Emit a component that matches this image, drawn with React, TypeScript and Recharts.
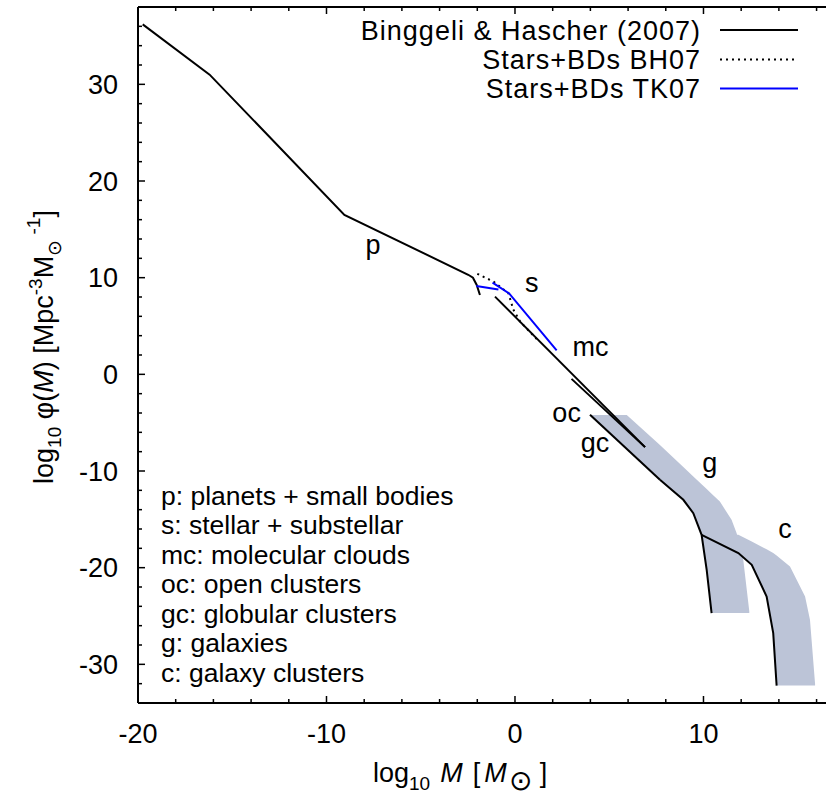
import React from "react";
import { ComposedChart, Line, Area, Scatter, XAxis, YAxis } from "recharts";

// axis ranges and ticks (log10 M in solar masses, log10 phi); multiples of 10 are the labelled ones
const X_DOMAIN: [number, number] = [-20, 16.5];
const Y_DOMAIN: [number, number] = [-34, 38];
const xTicks = [-20, -18, -16, -14, -12, -10, -8, -6, -4, -2, 0, 2, 4, 6, 8, 10, 12, 14, 16];
const yTicks = [-32, -30, -28, -26, -24, -22, -20, -18, -16, -14, -12, -10, -8, -6, -4, -2, 0, 2, 4, 6, 8, 10, 12, 14, 16, 18, 20, 22, 24, 26, 28, 30, 32, 34, 36];

// Binggeli & Hascher (2007) curves
const planets = [
  { m: -19.75, phi: 36.2 },
  { m: -16.2, phi: 31.0 },
  { m: -9.05, phi: 16.5 },
  { m: -2.48, phi: 10.3 },
  { m: -2.23, phi: 10.0 },
  { m: -2.03, phi: 9.25 },
  { m: -1.86, phi: 8.2 },
];
const molecularClouds = [
  { m: -1.06, phi: 8.04 },
  { m: 6.9, phi: -7.53 },
];
const openClusters = [
  { m: 3.0, phi: -0.47 },
  { m: 6.9, phi: -7.53 },
];
const globularClusters = [
  { m: 3.98, phi: -4.19 },
  { m: 7.69, phi: -10.91 },
];
const galaxies = [
  { m: 7.69, phi: -10.91 },
  { m: 8.93, phi: -12.98 },
  { m: 9.46, phi: -14.36 },
  { m: 9.9, phi: -16.6 },
  { m: 10.17, phi: -20.22 },
  { m: 10.43, phi: -24.7 },
];
const galaxyClusters = [
  { m: 9.9, phi: -16.6 },
  { m: 11.85, phi: -18.49 },
  { m: 12.56, phi: -19.7 },
  { m: 13.35, phi: -22.98 },
  { m: 13.7, phi: -26.77 },
  { m: 13.88, phi: -32.2 },
];

// Stars+BDs mass functions
const starsBH07 = [
  { m: -2.0, phi: 10.4 },
  { m: -1.15, phi: 9.6 },
  { m: -0.35, phi: 8.4 },
  { m: -0.09, phi: 6.7 },
  { m: 0.27, phi: 5.46 },
  { m: 1.2, phi: 3.55 },
];
const tk07BrownDwarfs = [
  { m: -2.05, phi: 9.13 },
  { m: -0.88, phi: 8.78 },
];
const tk07Stars = [
  { m: -1.19, phi: 9.48 },
  { m: -0.31, phi: 8.37 },
  { m: 2.21, phi: 2.48 },
];

// shaded uncertainty bands
const galaxyBand = [
  { m: 4.0, lo: -4.2, hi: -4.2 },
  { m: 5.93, lo: -7.72, hi: -4.2 },
  { m: 7.69, lo: -10.91, hi: -7.3 },
  { m: 8.93, lo: -12.98, hi: -9.58 },
  { m: 9.46, lo: -14.36, hi: -10.56 },
  { m: 9.9, lo: -16.6, hi: -11.37 },
  { m: 10.17, lo: -20.22, hi: -11.87 },
  { m: 10.43, lo: -24.7, hi: -12.35 },
  { m: 10.87, lo: -24.7, hi: -13.16 },
  { m: 11.49, lo: -24.7, hi: -15.05 },
  { m: 11.76, lo: -24.7, hi: -16.43 },
  { m: 12.11, lo: -24.7, hi: -19.19 },
  { m: 12.43, lo: -24.7, hi: -24.5 },
];
const clusterBand = [
  { m: 9.9, lo: -16.6, hi: -16.6 },
  { m: 11.85, lo: -18.49, hi: -16.6 },
  { m: 12.56, lo: -19.7, hi: -17.3 },
  { m: 13.35, lo: -22.98, hi: -18.1 },
  { m: 13.7, lo: -26.77, hi: -18.49 },
  { m: 13.88, lo: -32.2, hi: -18.75 },
  { m: 14.59, lo: -32.2, hi: -19.88 },
  { m: 15.39, lo: -32.2, hi: -22.98 },
  { m: 15.65, lo: -32.2, hi: -25.4 },
  { m: 15.92, lo: -32.2, hi: -32.0 },
];

const regionLabels = [
  { m: -7.53, phi: 12.46, text: "p" },
  { m: 0.89, phi: 8.5, text: "s" },
  { m: 4.01, phi: 1.91, text: "mc" },
  { m: 2.74, phi: -4.95, text: "oc" },
  { m: 4.24, phi: -8.0, text: "gc" },
  { m: 10.34, phi: -10.1, text: "g" },
  { m: 14.32, phi: -16.95, text: "c" },
];

const keyLines = [
  "p: planets + small bodies",
  "s: stellar + substellar",
  "mc: molecular clouds",
  "oc: open clusters",
  "gc: globular clusters",
  "g: galaxies",
  "c: galaxy clusters",
];

const legendNames = ["Binggeli & Hascher (2007)", "Stars+BDs BH07", "Stars+BDs TK07"];

const BAND_COLOR = "#bcc4d7";
const FONT = "'Liberation Sans', Arial, Helvetica, sans-serif";
const W = 826;
const H = 798;

const toRange = (rows: { m: number; lo: number; hi: number }[]) =>
  rows.map((r) => ({ m: r.m, range: [r.lo, r.hi] }));

const renderRegionLabel = (props: any) => (
  <text x={props.cx} y={props.cy} textAnchor="middle" fontSize={27} fontFamily={FONT} fill="#000">
    {props.payload.text}
  </text>
);

const isMajor = (v: number) => v % 10 === 0;
const tickLen = (v: number) => (isMajor(v) ? 7 : 4);

// gnuplot-style inward ticks; (x, y) is the point on the frame
const bottomTick = (p: any) => {
  const v = p.payload.value;
  return (
    <g>
      <line x1={p.x} y1={p.y} x2={p.x} y2={p.y - tickLen(v)} stroke="#000" strokeWidth={1.5} />
      {isMajor(v) && (
        <text x={p.x} y={p.y + 39.7} textAnchor="middle" fontSize={27} fontFamily={FONT} fill="#000">{v}</text>
      )}
    </g>
  );
};
const topTick = (p: any) => (
  <line x1={p.x} y1={p.y} x2={p.x} y2={p.y + tickLen(p.payload.value)} stroke="#000" strokeWidth={1.5} />
);
const leftTick = (p: any) => {
  const v = p.payload.value;
  return (
    <g>
      <line x1={p.x} y1={p.y} x2={p.x + tickLen(v)} y2={p.y} stroke="#000" strokeWidth={1.5} />
      {isMajor(v) && (
        <text x={p.x - 20} y={p.y + 9.6} textAnchor="end" fontSize={27} fontFamily={FONT} fill="#000">{v}</text>
      )}
    </g>
  );
};

const ax = { xAxisId: "xMain", yAxisId: "yMain" };
const frameStroke = { stroke: "#000", strokeWidth: 2 };

export default function App() {
  return (
    <div style={{ position: "absolute", left: 0, top: 0, width: W, height: H, background: "#fff" }}>
      <ComposedChart width={W} height={H} margin={{ top: 6, right: 0, bottom: 0, left: 0 }} style={{ fontFamily: FONT }}>
        <XAxis xAxisId="xMain" type="number" dataKey="m" domain={X_DOMAIN} allowDataOverflow ticks={xTicks} interval={0}
          orientation="bottom" height={95} tickSize={0} tickMargin={0} axisLine={frameStroke} tickLine={false} tick={bottomTick} />
        <XAxis xAxisId="xTop" type="number" dataKey="m" domain={X_DOMAIN} allowDataOverflow ticks={xTicks} interval={0}
          orientation="top" height={1} tickSize={0} tickMargin={0} axisLine={frameStroke} tickLine={false} tick={topTick} />
        <YAxis yAxisId="yMain" type="number" domain={Y_DOMAIN} allowDataOverflow ticks={yTicks} interval={0}
          orientation="left" width={138} tickSize={0} tickMargin={0} axisLine={frameStroke} tickLine={false} tick={leftTick} />

        <Area {...ax} data={toRange(galaxyBand)} dataKey="range" type="linear" stroke="none" fill={BAND_COLOR} fillOpacity={1} isAnimationActive={false} />
        <Area {...ax} data={toRange(clusterBand)} dataKey="range" type="linear" stroke="none" fill={BAND_COLOR} fillOpacity={1} isAnimationActive={false} />

        <Line {...ax} data={planets} dataKey="phi" type="linear" stroke="#000" strokeWidth={2} dot={false} isAnimationActive={false} />
        <Line {...ax} data={molecularClouds} dataKey="phi" type="linear" stroke="#000" strokeWidth={2} dot={false} isAnimationActive={false} />
        <Line {...ax} data={openClusters} dataKey="phi" type="linear" stroke="#000" strokeWidth={2} dot={false} isAnimationActive={false} />
        <Line {...ax} data={globularClusters} dataKey="phi" type="linear" stroke="#000" strokeWidth={2} dot={false} isAnimationActive={false} />
        <Line {...ax} data={galaxies} dataKey="phi" type="linear" stroke="#000" strokeWidth={2} dot={false} isAnimationActive={false} />
        <Line {...ax} data={galaxyClusters} dataKey="phi" type="linear" stroke="#000" strokeWidth={2} dot={false} isAnimationActive={false} />
        <Line {...ax} data={starsBH07} dataKey="phi" type="linear" stroke="#000" strokeWidth={2} strokeDasharray="2 4" dot={false} isAnimationActive={false} />
        <Line {...ax} data={tk07BrownDwarfs} dataKey="phi" type="linear" stroke="#0000ff" strokeWidth={2} dot={false} isAnimationActive={false} />
        <Line {...ax} data={tk07Stars} dataKey="phi" type="linear" stroke="#0000ff" strokeWidth={2} dot={false} isAnimationActive={false} />

        {/* region letters ride on the top axis so that it has a series too */}
        <Scatter xAxisId="xTop" yAxisId="yMain" data={regionLabels} dataKey="phi" shape={renderRegionLabel} isAnimationActive={false} />
      </ComposedChart>

      {/* legend, key and axis titles */}
      <svg width={W} height={H} style={{ position: "absolute", left: 0, top: 0, pointerEvents: "none" }} fontFamily={FONT} fill="#000">
        {legendNames.map((name, i) => (
          <text key={name} x={701} y={39.5 + i * 29.2} textAnchor="end" fontSize={27} letterSpacing={1}>{name}</text>
        ))}
        <line x1={720} x2={798} y1={30} y2={30} stroke="#000" strokeWidth={2} />
        <line x1={720} x2={798} y1={59.5} y2={59.5} stroke="#000" strokeWidth={2} strokeDasharray="2 4" />
        <line x1={720} x2={798} y1={88.5} y2={88.5} stroke="#0000ff" strokeWidth={2} />

        {keyLines.map((t, i) => (
          <text key={t} x={161} y={504.5 + i * 29.5} fontSize={26.5}>{t}</text>
        ))}

        <text x={373} y={782} fontSize={27}>
          log<tspan dy={8} fontSize={19}>10</tspan>
          <tspan dy={-8} dx={10} fontStyle="italic">M</tspan>
          <tspan dx={10}>[</tspan>
          <tspan dx={4} fontStyle="italic">M</tspan>
          <tspan dy={8} dx={2} fontSize={28}>⊙</tspan>
          <tspan dy={-8} dx={8}>]</tspan>
        </text>

        <text x={53} y={347} fontSize={27} textAnchor="middle" transform="rotate(-90 53 347)">
          log<tspan dy={8} fontSize={19}>10</tspan>
          <tspan dy={-8}> φ(</tspan>
          <tspan fontStyle="italic">M</tspan>
          <tspan>) [Mpc</tspan>
          <tspan dy={-11} fontSize={19}>-3</tspan>
          <tspan dy={11}>M</tspan>
          <tspan dy={8} fontSize={19}>⊙</tspan>
          <tspan dy={-21} fontSize={19}> -1</tspan>
          <tspan dy={13}>]</tspan>
        </text>
      </svg>
    </div>
  );
}
